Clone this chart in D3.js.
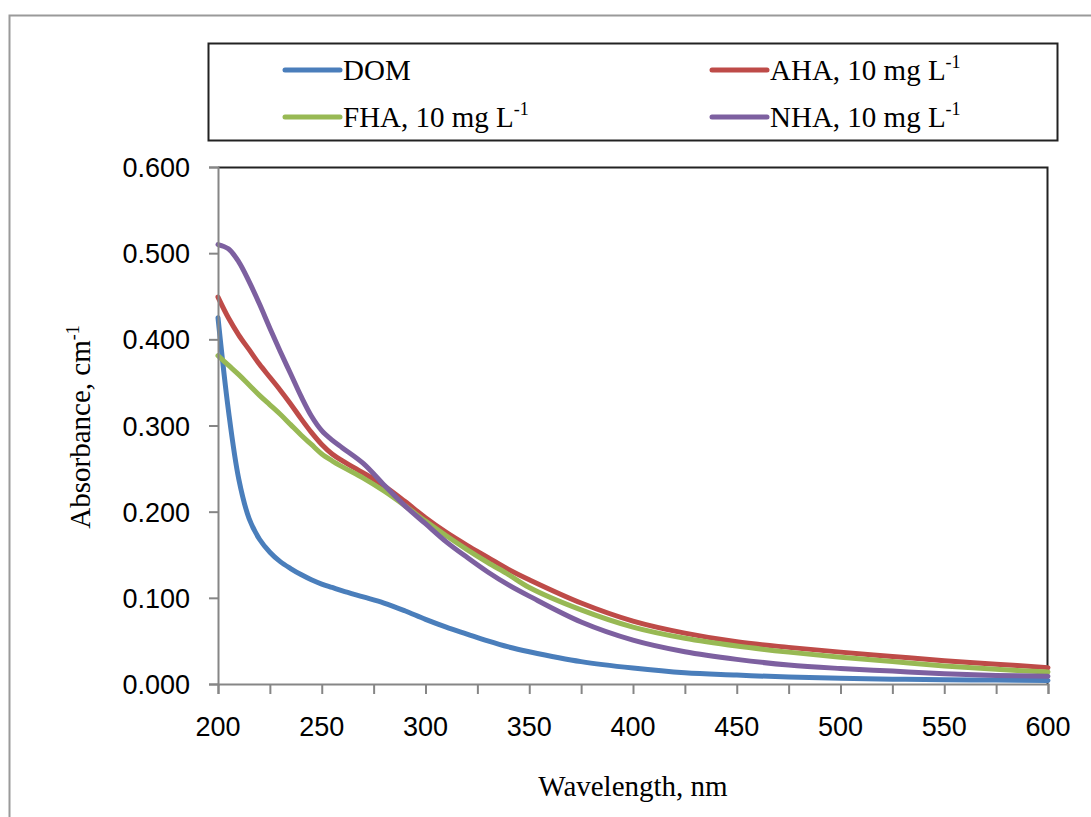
<!DOCTYPE html>
<html>
<head>
<meta charset="utf-8">
<script src="https://cdn.jsdelivr.net/npm/d3@7"></script>
<style>
  body { margin: 0; background: #fff; }
  svg text { fill: #000; }
  .tick-label { font-family: 'Liberation Sans', Arial, sans-serif; font-size: 27px; }
  .serif { font-family: 'Liberation Serif', 'Times New Roman', serif; font-size: 29px; }
</style>
</head>
<body>
<div id="chart"></div>
<script>
// Wavelength grid (nm) shared by every series
const wavelengths = [200, 205, 210, 215, 220, 225, 230, 235, 240, 245, 250, 255, 260, 270, 280, 290,
  300, 310, 320, 330, 340, 350, 375, 400, 425, 450, 475, 500, 525, 550, 575, 600];

// Absorbance, cm-1
const domValues = [0.425, 0.318, 0.238, 0.192, 0.168, 0.153, 0.142, 0.134, 0.127, 0.121, 0.116, 0.112, 0.108, 0.101,
  0.094, 0.085, 0.075, 0.066, 0.058, 0.050, 0.043, 0.0375, 0.026, 0.0185, 0.013, 0.0104, 0.008, 0.0066,
  0.0056, 0.005, 0.0045, 0.004];
const ahaValues = [0.449, 0.425, 0.405, 0.388, 0.371, 0.356, 0.341, 0.325, 0.308, 0.292, 0.278, 0.267, 0.259, 0.245,
  0.230, 0.212, 0.193, 0.176, 0.161, 0.147, 0.133, 0.121, 0.094, 0.073, 0.059, 0.049, 0.0425, 0.037,
  0.032, 0.027, 0.023, 0.019];
const fhaValues = [0.381, 0.370, 0.359, 0.347, 0.335, 0.324, 0.313, 0.301, 0.289, 0.278, 0.267, 0.259, 0.252, 0.239,
  0.224, 0.207, 0.189, 0.172, 0.156, 0.141, 0.127, 0.112, 0.086, 0.066, 0.053, 0.044, 0.037, 0.031,
  0.026, 0.021, 0.017, 0.014];
const nhaValues = [0.510, 0.505, 0.490, 0.467, 0.441, 0.413, 0.386, 0.360, 0.334, 0.311, 0.294, 0.283, 0.274, 0.256,
  0.231, 0.207, 0.186, 0.165, 0.147, 0.130, 0.115, 0.102, 0.072, 0.051, 0.0375, 0.0286, 0.022, 0.018,
  0.015, 0.012, 0.010, 0.009];

const seriesNames = ['DOM', 'AHA', 'FHA', 'NHA'];
const seriesColors = ['#4a7ebb', '#be4b48', '#98b954', '#7d60a0'];
const legendLabels = [['DOM', ''], ['AHA, 10 mg L', '-1'], ['FHA, 10 mg L', '-1'], ['NHA, 10 mg L', '-1']];

const xTicks = d3.range(200, 601, 25);
const xLabels = d3.range(200, 601, 50);
const yTicks = [0, 0.1, 0.2, 0.3, 0.4, 0.5, 0.6];

const W = 1091, H = 817;
const margin = { top: 167, right: 43, bottom: 133, left: 218 };
const width = W - margin.left - margin.right;   // 830
const height = H - margin.top - margin.bottom;  // 517

const svg = d3.select('#chart').append('svg')
  .attr('width', W)
  .attr('height', H);

// outer chart frame (only top and left visible)
svg.append('rect')
  .attr('x', 9.5).attr('y', 15.5)
  .attr('width', W + 20).attr('height', H + 20)
  .attr('fill', 'none')
  .attr('stroke', '#9a9a9a')
  .attr('stroke-width', 2);

const x = d3.scaleLinear().domain([200, 600]).range([0, width]);
const y = d3.scaleLinear().domain([0, 0.6]).range([height, 0]);

const g = svg.append('g').attr('transform', `translate(${margin.left}, ${margin.top})`);

// plot border: dark top/right
g.append('path')
  .attr('d', `M0,0.5H${width - 0.5}V${height}`)
  .attr('fill', 'none')
  .attr('stroke', '#222')
  .attr('stroke-width', 2);

// Lines
const series = [domValues, ahaValues, fhaValues, nhaValues].map((vals, i) => ({
  name: seriesNames[i],
  color: seriesColors[i],
  points: wavelengths.map((w, j) => ({ w, v: vals[j] }))
}));

const line = d3.line()
  .x((d) => x(d.w))
  .y((d) => y(d.v))
  .curve(d3.curveCatmullRom.alpha(0.5));

// draw order: DOM, AHA, FHA, NHA (NHA on top)
g.selectAll('.series')
  .data(series)
  .join('path')
  .attr('class', 'series')
  .attr('d', (d) => line(d.points))
  .attr('fill', 'none')
  .attr('stroke', (d) => d.color)
  .attr('stroke-width', 5)
  .attr('stroke-linejoin', 'round')
  .attr('stroke-linecap', 'round');

// Axes
const xAxis = g.append('g')
  .attr('transform', `translate(0, ${height})`)
  .call(d3.axisBottom(x).tickValues(xTicks).tickSize(10).tickFormat(''));
const yAxis = g.append('g')
  .call(d3.axisLeft(y).tickValues(yTicks).tickSize(9).tickFormat(''));
[xAxis, yAxis].forEach((a) => {
  a.select('.domain').attr('stroke', '#868686').attr('stroke-width', 2);
  a.selectAll('.tick line').attr('stroke', '#868686').attr('stroke-width', 2);
});

// tick labels
g.selectAll('.xlab')
  .data(xLabels)
  .join('text')
  .attr('class', 'tick-label')
  .attr('x', (d) => x(d))
  .attr('y', height + 52)
  .attr('text-anchor', 'middle')
  .text((d) => d);

g.selectAll('.ylab')
  .data(yTicks)
  .join('text')
  .attr('class', 'tick-label')
  .attr('x', -28)
  .attr('y', (d) => y(d) + 10)
  .attr('text-anchor', 'end')
  .text((d) => d.toFixed(3));

// Axis titles
svg.append('text')
  .attr('class', 'serif')
  .attr('x', margin.left + width / 2)
  .attr('y', 796)
  .attr('text-anchor', 'middle')
  .text('Wavelength, nm');

const yt = svg.append('text')
  .attr('class', 'serif')
  .attr('transform', 'translate(90, 427) rotate(-90)')
  .attr('text-anchor', 'middle');
yt.append('tspan').text('Absorbance, cm');
yt.append('tspan').attr('dy', -11).attr('font-size', 18).text('-1');

// Legend
const legend = svg.append('g');
legend.append('rect')
  .attr('x', 208.5).attr('y', 43.5)
  .attr('width', 849).attr('height', 97)
  .attr('fill', '#fff')
  .attr('stroke', '#222')
  .attr('stroke-width', 2);

const legendPos = [[285, 70], [712, 70], [285, 117], [712, 117]];
const items = legend.selectAll('.item')
  .data(series)
  .join('g')
  .attr('class', 'item')
  .attr('transform', (d, i) => `translate(${legendPos[i][0]}, ${legendPos[i][1]})`);
items.append('line')
  .attr('x1', 0).attr('x2', 55)
  .attr('stroke', (d) => d.color)
  .attr('stroke-width', 5)
  .attr('stroke-linecap', 'round');
const lt = items.append('text')
  .attr('class', 'serif')
  .attr('x', 58)
  .attr('y', 10);
lt.append('tspan').text((d, i) => legendLabels[i][0]);
lt.append('tspan').attr('dy', -12).attr('font-size', 18).text((d, i) => legendLabels[i][1]);
</script>
</body>
</html>
